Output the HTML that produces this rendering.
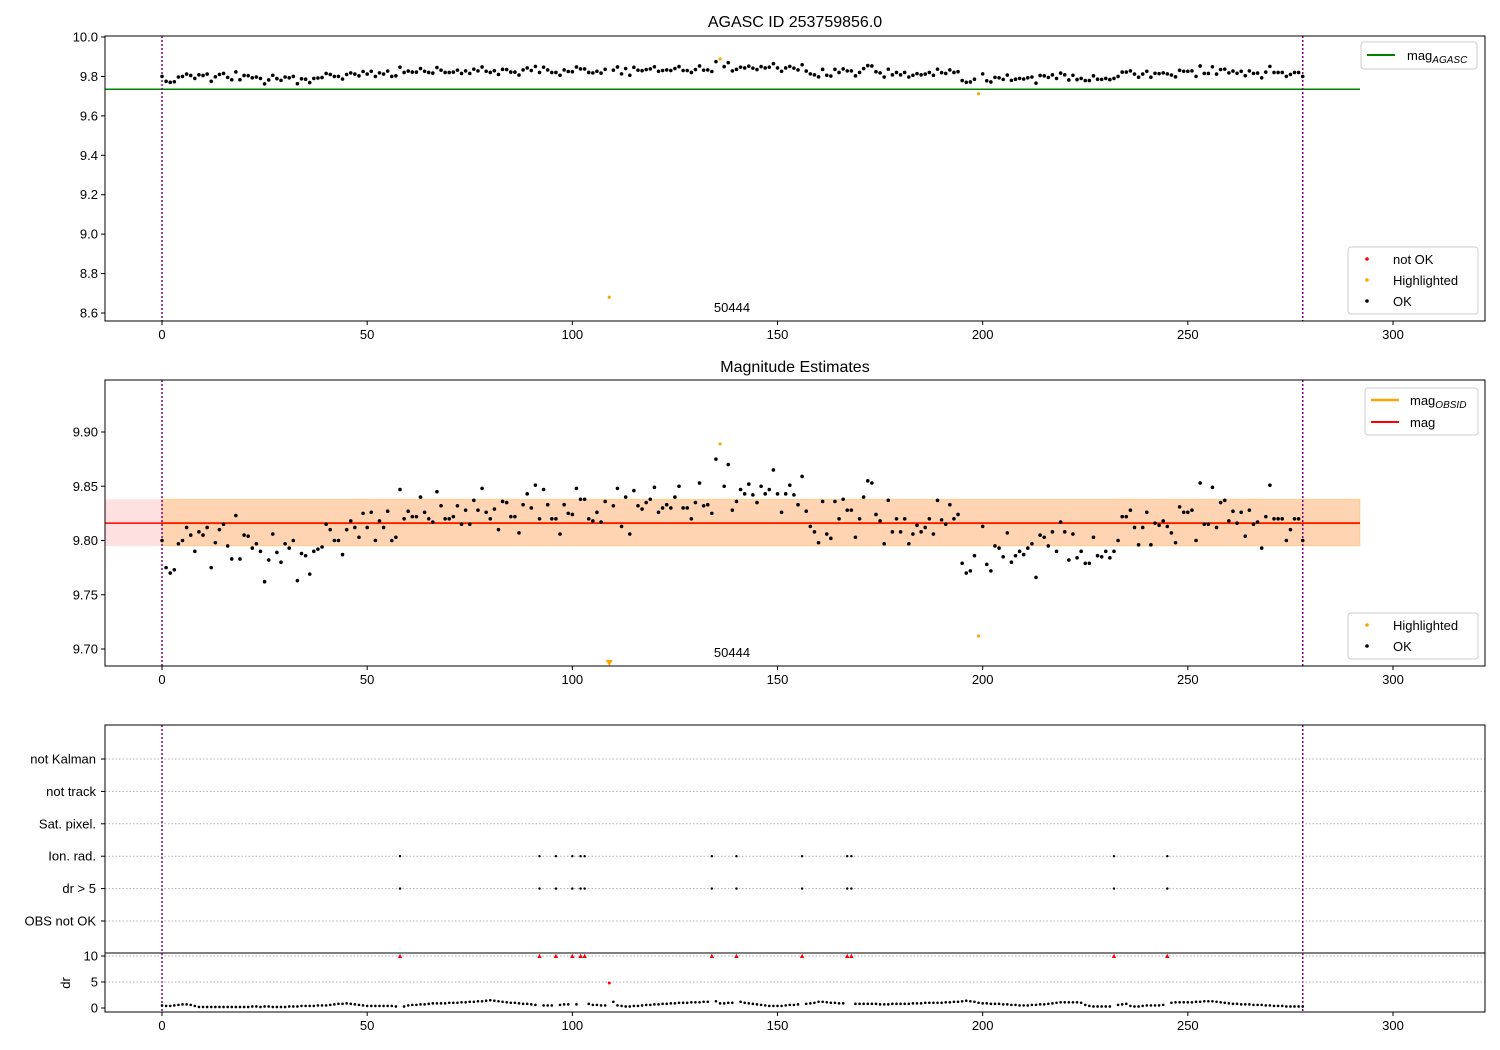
<!DOCTYPE html>
<html><head><meta charset="utf-8">
<style>
body{margin:0;background:#fff;}
svg{display:block;font-family:"Liberation Sans","DejaVu Sans",sans-serif;}
</style></head>
<body>
<svg id="chart" width="1500" height="1050" xmlns="http://www.w3.org/2000/svg"></svg>
<script>
const mags = [
9.800,9.775,9.770,9.773,9.797,9.800,9.812,9.805,9.790,9.808,
9.805,9.812,9.775,9.798,9.810,9.815,9.795,9.783,9.823,9.783,
9.805,9.804,9.793,9.797,9.790,9.762,9.782,9.806,9.789,9.780,
9.797,9.793,9.800,9.763,9.788,9.786,9.769,9.790,9.792,9.794,
9.815,9.810,9.800,9.800,9.787,9.810,9.818,9.812,9.803,9.825,
9.812,9.826,9.800,9.818,9.812,9.827,9.800,9.803,9.847,9.820,
9.827,9.822,9.822,9.840,9.826,9.820,9.817,9.845,9.832,9.820,
9.820,9.822,9.832,9.815,9.828,9.815,9.837,9.828,9.848,9.826,
9.820,9.829,9.810,9.836,9.835,9.822,9.822,9.807,9.833,9.843,
9.830,9.851,9.820,9.847,9.833,9.820,9.820,9.806,9.833,9.825,
9.824,9.848,9.838,9.838,9.820,9.818,9.826,9.817,9.836,8.680,
9.832,9.848,9.813,9.840,9.806,9.846,9.832,9.829,9.835,9.838,
9.849,9.826,9.830,9.833,9.830,9.840,9.850,9.830,9.830,9.820,
9.835,9.853,9.832,9.833,9.825,9.875,9.889,9.850,9.870,9.828,
9.836,9.847,9.843,9.852,9.842,9.835,9.850,9.843,9.847,9.865,
9.843,9.826,9.843,9.851,9.842,9.833,9.859,9.827,9.813,9.808,
9.798,9.836,9.806,9.802,9.836,9.820,9.838,9.828,9.828,9.803,
9.820,9.840,9.855,9.853,9.824,9.818,9.797,9.837,9.808,9.820,
9.808,9.820,9.797,9.806,9.814,9.808,9.812,9.820,9.806,9.837,
9.819,9.815,9.833,9.820,9.824,9.779,9.770,9.772,9.786,9.712,
9.813,9.778,9.772,9.795,9.793,9.785,9.807,9.780,9.786,9.790,
9.787,9.793,9.797,9.766,9.805,9.803,9.795,9.808,9.790,9.817,
9.808,9.782,9.806,9.784,9.790,9.779,9.779,9.803,9.786,9.785,
9.790,9.784,9.790,9.800,9.822,9.822,9.828,9.812,9.796,9.812,
9.826,9.796,9.816,9.814,9.818,9.813,9.807,9.798,9.831,9.826,
9.826,9.828,9.800,9.853,9.815,9.815,9.849,9.812,9.835,9.837,
9.818,9.827,9.816,9.826,9.804,9.828,9.815,9.817,9.793,9.822,
9.851,9.820,9.820,9.820,9.800,9.810,9.820,9.820,9.800];
const drs = [
0.5,0.4,0.4,0.5,0.6,0.7,0.7,0.6,0.4,0.2,
0.2,0.2,0.2,0.2,0.2,0.2,0.2,0.2,0.2,0.2,
0.2,0.2,0.3,0.3,0.2,0.3,0.3,0.2,0.2,0.2,
0.2,0.3,0.3,0.3,0.4,0.4,0.4,0.4,0.5,0.5,
0.5,0.6,0.7,0.8,0.8,0.9,0.8,0.7,0.6,0.5,
0.4,0.4,0.4,0.4,0.4,0.4,0.4,0.3,10,0.3,
0.5,0.6,0.6,0.7,0.7,0.8,0.9,0.9,0.9,0.9,
1.0,1.0,1.0,1.1,1.1,1.2,1.2,1.3,1.3,1.4,
1.5,1.4,1.3,1.2,1.1,1.0,1.0,0.9,0.8,0.8,
0.7,0.6,10,0.5,0.5,0.5,10,0.6,0.7,0.7,
10,0.7,10,10,0.8,0.6,0.6,0.5,0.5,4.8,
1.2,0.5,0.4,0.3,0.3,0.4,0.4,0.5,0.6,0.6,
0.7,0.7,0.8,0.8,0.9,0.9,1.0,1.0,1.0,1.1,
1.1,1.1,1.2,1.2,10,1.3,0.9,0.9,1.0,1.0,
10,1.2,1.0,0.9,0.8,0.7,0.6,0.5,0.4,0.4,
0.4,0.4,0.5,0.6,0.6,0.7,10,0.8,0.9,1.0,
1.2,1.2,1.1,1.0,1.0,0.9,0.9,10,10,0.8,
0.8,0.8,0.8,0.8,0.8,0.7,0.7,0.7,0.8,0.8,
0.8,0.8,0.8,0.9,0.9,0.9,1.0,1.0,1.0,1.0,
1.0,1.1,1.1,1.2,1.2,1.3,1.4,1.3,1.2,1.0,
0.9,0.9,0.8,0.8,0.8,0.7,0.7,0.6,0.6,0.5,
0.5,0.5,0.6,0.6,0.7,0.7,0.8,0.9,1.0,1.1,
1.1,1.1,1.1,1.1,1.0,0.6,0.4,0.3,0.3,0.3,
0.3,0.3,10,0.6,0.7,0.8,0.4,0.3,0.3,0.4,
0.5,0.5,0.5,0.5,0.6,10,1.0,1.1,1.1,1.1,
1.1,1.1,1.2,1.2,1.3,1.3,1.3,1.2,1.1,1.0,
0.9,0.8,0.8,0.7,0.7,0.7,0.6,0.6,0.6,0.5,
0.5,0.4,0.4,0.4,0.3,0.3,0.3,0.3,0.3];
const highlighted = [109,136,199];
const notOk = [58,92,96,100,102,103,109,134,140,156,167,168,232,245];
const ionRad = [58,92,96,100,102,103,134,140,156,167,168,232,245];
const magAgasc = 9.735;
const magMean = 9.816;
const magLow = 9.795, magHigh = 9.838;
const xTicks = [0,50,100,150,200,250,300];
const y1Ticks = [10.0,9.8,9.6,9.4,9.2,9.0,8.8,8.6];
const y2Ticks = [9.90,9.85,9.80,9.75,9.70];
const flagRows = ["not Kalman","not track","Sat. pixel.","Ion. rad.","dr > 5","OBS not OK"];
const drTicks = [10,5,0];

const svg = document.getElementById('chart');
const NS = 'http://www.w3.org/2000/svg';
function mk(tag, attrs, parent, txt){
  const e = document.createElementNS(NS, tag);
  for (const k in attrs) e.setAttribute(k, attrs[k]);
  if (txt !== undefined) e.textContent = txt;
  (parent || svg).appendChild(e);
  return e;
}
const X = i => 162 + i * (1393 - 162) / 300;
const Y1 = v => 37 + (10.0 - v) * (313 - 37) / 1.4;
const Y2 = v => 432 + (9.90 - v) * (649 - 432) / 0.2;
const YD = v => 1008 - v * 5.2;
const L = 105, R = 1485;

function xAxis(bottom, name){
  const g = mk('g', {});
  
  
  xTicks.forEach(t => {
    mk('line', {x1:X(t), x2:X(t), y1:bottom, y2:bottom+4, stroke:'#000'}, g);
    mk('text', {x:X(t), y:bottom+18, 'font-size':13, 'text-anchor':'middle'}, g, String(t));
  });
}
function frame(top, bottom, name){
  const r = mk('rect', {x:L, y:top, width:R-L, height:bottom-top, fill:'none', stroke:'#000', 'stroke-width':1});
  
  
}
function vlines(top, bottom){
  [0, 278].forEach(i => {
    const l = mk('line', {x1:X(i), x2:X(i), y1:top, y2:bottom, stroke:'#800080', 'stroke-width':1.5, 'stroke-dasharray':'2,2'});
    
    
  });
}

// ---------- Panel 1 ----------
mk('text', {x:795, y:27, 'font-size':16, 'text-anchor':'middle',  }, svg, 'AGASC ID 253759856.0');
y1Ticks.forEach(t => {
  mk('line', {x1:L-4, x2:L, y1:Y1(t), y2:Y1(t), stroke:'#000'});
  const tx = mk('text', {x:L-7, y:Y1(t)+4.5, 'font-size':13, 'text-anchor':'end'}, svg, t.toFixed(1));
  
  
});
const agl = mk('line', {x1:L, x2:1360, y1:Y1(magAgasc), y2:Y1(magAgasc), stroke:'#008000', 'stroke-width':1.5});


vlines(36, 321);
mags.forEach((v, i) => {
  const hl = highlighted.includes(i);
  const c = mk('circle', {cx:X(i), cy:Y1(v), r:hl?1.6:1.8, fill:hl?'#ffa500':'#000'});
  
  
});
mk('text', {x:732, y:312, 'font-size':13, 'text-anchor':'middle',  }, svg, '50444');
frame(36, 321, 'agasc-axes');
xAxis(321, 'x-axis-top');
mk('rect', {x:1361, y:42, width:116, height:27, fill:'#fff', stroke:'#ccc', rx:3,  });
mk('line', {x1:1367, x2:1395, y1:55, y2:55, stroke:'#008000', 'stroke-width':2});
const lt = mk('text', {x:1407, y:60, 'font-size':13,  }, svg, 'mag');
mk('tspan', {'font-size':10, 'font-style':'italic', dy:3}, lt, 'AGASC');
mk('rect', {x:1348, y:247, width:130, height:67, fill:'#fff', stroke:'#ccc', rx:3,  });
[['#f00','not OK',260],['#ffa500','Highlighted',281],['#000','OK',302]].forEach(d => {
  mk('circle', {cx:1367, cy:d[2]-1, r:1.8, fill:d[0]});
  mk('text', {x:1393, y:d[2]+4, 'font-size':13,  }, svg, d[1]);
});

// ---------- Panel 2 ----------
mk('text', {x:795, y:372, 'font-size':16, 'text-anchor':'middle',  }, svg, 'Magnitude Estimates');
const band1 = mk('rect', {x:L, y:Y2(magHigh), width:1360-L, height:Y2(magLow)-Y2(magHigh), fill:'#ff0000', 'fill-opacity':0.12});


const band2 = mk('rect', {x:X(0), y:Y2(magHigh), width:1360-X(0), height:Y2(magLow)-Y2(magHigh), fill:'#ffa500', 'fill-opacity':0.2, stroke:'#ffa500', 'stroke-opacity':0.3});


mk('line', {x1:X(0), x2:1360, y1:Y2(magMean), y2:Y2(magMean), stroke:'#ffa500', 'stroke-width':2});
const ml = mk('line', {x1:L, x2:1360, y1:Y2(magMean), y2:Y2(magMean), stroke:'#f00', 'stroke-width':1.5});


y2Ticks.forEach(t => {
  mk('line', {x1:L-4, x2:L, y1:Y2(t), y2:Y2(t), stroke:'#000'});
  const tx = mk('text', {x:L-7, y:Y2(t)+4.5, 'font-size':13, 'text-anchor':'end'}, svg, t.toFixed(2));
  
  
});
vlines(380, 666);
mags.forEach((v, i) => {
  const hl = highlighted.includes(i);
  const y = Y2(v);
  if (y > 666) {
    const p = mk('path', {d:`M${X(i)-3.5},${660} L${X(i)+3.5},${660} L${X(i)},${666} Z`, fill:'#ffa500'});
    
    
    return;
  }
  const c = mk('circle', {cx:X(i), cy:y, r:hl?1.6:1.8, fill:hl?'#ffa500':'#000'});
  
  
});
mk('text', {x:732, y:657, 'font-size':13, 'text-anchor':'middle',  }, svg, '50444');
frame(380, 666, 'magnitude-axes');
xAxis(666, 'x-axis-middle');
mk('rect', {x:1365, y:388, width:113, height:47, fill:'#fff', stroke:'#ccc', rx:3,  });
mk('line', {x1:1371, x2:1399, y1:400, y2:400, stroke:'#ffa500', 'stroke-width':2.5});
const lt2 = mk('text', {x:1410, y:405, 'font-size':13,  }, svg, 'mag');
mk('tspan', {'font-size':10, 'font-style':'italic', dy:3}, lt2, 'OBSID');
mk('line', {x1:1371, x2:1399, y1:422, y2:422, stroke:'#f00', 'stroke-width':2});
mk('text', {x:1410, y:427, 'font-size':13,  }, svg, 'mag');
mk('rect', {x:1348, y:613, width:130, height:46, fill:'#fff', stroke:'#ccc', rx:3,  });
[['#ffa500','Highlighted',626],['#000','OK',647]].forEach(d => {
  mk('circle', {cx:1367, cy:d[2]-1, r:1.8, fill:d[0]});
  mk('text', {x:1393, y:d[2]+4, 'font-size':13,  }, svg, d[1]);
});

// ---------- Panel 3 (flags) ----------
const rowY = k => 759 + k * 32.4;
flagRows.forEach((name, k) => {
  const gl = mk('line', {x1:L, x2:R, y1:rowY(k), y2:rowY(k), stroke:'#b0b0b0', 'stroke-dasharray':'1.5,2'});
  
  
  mk('line', {x1:L-4, x2:L, y1:rowY(k), y2:rowY(k), stroke:'#000'});
  const tx = mk('text', {x:L-9, y:rowY(k)+4.5, 'font-size':13, 'text-anchor':'end'}, svg, name);
  
  
});
vlines(725, 1012);
ionRad.forEach(i => {
  [3, 4].forEach(k => {
    const c = mk('circle', {cx:X(i), cy:rowY(k), r:1.2, fill:'#000'});
    
    
  });
});
frame(725, 953, 'flags-axes');

// dr panel
[10, 5].forEach(t => {
  mk('line', {x1:L, x2:R, y1:YD(t), y2:YD(t), stroke:'#b0b0b0', 'stroke-dasharray':'1.5,2'});
});
drTicks.forEach(t => {
  mk('line', {x1:L-4, x2:L, y1:YD(t), y2:YD(t), stroke:'#000'});
  const tx = mk('text', {x:L-7, y:YD(t)+4.5, 'font-size':13, 'text-anchor':'end'}, svg, String(t));
  
  
});
mk('text', {x:70, y:983, 'font-size':13, 'text-anchor':'middle', transform:'rotate(-90 70 983)',  }, svg, 'dr');
drs.forEach((v, i) => {
  const bad = notOk.includes(i);
  const x = X(i), y = YD(v);
  if (bad && v >= 10) {
    const p = mk('path', {d:`M${x-2.2},${y+2} L${x+2.2},${y+2} L${x},${y-2.2} Z`, fill:'#f00'});
    
    
    return;
  }
  const c = mk('circle', {cx:x, cy:y, r:bad?1.5:1.3, fill:bad?'#f00':'#000'});
  
  
});
frame(953, 1012, 'dr-axes');
xAxis(1012, 'x-axis-bottom');
</script>
</body></html>
